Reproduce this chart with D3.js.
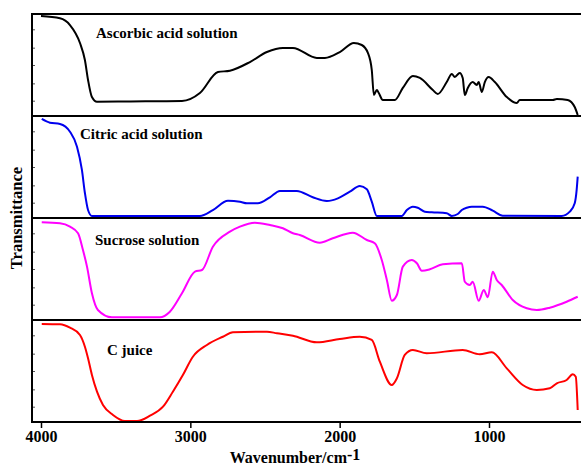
<!DOCTYPE html>
<html>
<head>
<meta charset="utf-8">
<script src="https://cdn.jsdelivr.net/npm/d3@7"></script>
<style>
  body { margin: 0; background: #fff; }
  svg { display: block; }
  .lbl { font-family: "Liberation Serif", "Times New Roman", serif; font-weight: bold; }
</style>
</head>
<body>
<div id="chart"></div>
<script>
// spectra: [wavenumber cm-1, relative transmittance %]
const ascorbic = [
  [4000, 98], [3873, 95.8], [3806, 89.2], [3739, 71.6], [3706, 54.9], [3685, 35.3], [3659, 18.6],
  [3625, 14], [3400, 14.3], [3200, 14.5], [3056, 14.7], [2936, 22.5], [2815, 43.1], [2735, 44.4],
  [2601, 52.9], [2487, 62.7], [2380, 66.7], [2313, 66.7], [2153, 56.9], [2099, 56.9], [1999, 62.7],
  [1905, 71.6], [1852, 69.6], [1811, 61.8], [1785, 45.1], [1771, 20.6], [1751, 25.5], [1738, 22.5],
  [1711, 15.7], [1631, 15.7], [1577, 27.5], [1510, 39.2], [1463, 37.3], [1376, 25.5], [1343, 21.6],
  [1283, 33.3], [1249, 41.2], [1229, 38.2], [1196, 42.2], [1176, 37.3], [1162, 20.6], [1142, 27.5],
  [1109, 33.3], [1082, 30.4], [1069, 33.3], [1048, 23.5], [1028, 33.3], [1002, 38.2], [961, 33.3],
  [881, 18.6], [814, 12.7], [794, 15.7], [573, 15.7], [546, 16.7], [473, 15.7], [426, 8.8], [406, 1]
]
const citric = [
  [3995, 97.1], [3940, 93.4], [3873, 92.2], [3806, 84.6], [3759, 69.9], [3726, 47.1], [3706, 24.5],
  [3685, 7.8], [3659, 2], [2936, 2], [2849, 7.8], [2748, 17], [2668, 16], [2621, 14.4], [2548, 14.4],
  [2467, 20.3], [2400, 26.5], [2287, 26.5], [2180, 20.3], [2086, 16.7], [2012, 19.3], [1932, 25.8],
  [1865, 31.4], [1818, 28.1], [1785, 16], [1751, 2], [1584, 2], [1550, 7.8], [1510, 11.1],
  [1477, 10.1], [1430, 6.2], [1383, 5.6], [1283, 4.6], [1249, 2], [1209, 3.9], [1182, 7.8],
  [1149, 10.1], [1115, 11.1], [1042, 11.1], [975, 7.2], [908, 2.3], [513, 2], [459, 6.2],
  [426, 14.4], [413, 27.5], [406, 40.5]
]
const sucrose = [
  [3995, 95.8], [3873, 94.8], [3806, 91.5], [3752, 85], [3719, 68.6], [3692, 52.3], [3659, 26.2],
  [3619, 9.8], [3525, 2.6], [3204, 2.6], [3137, 8.1], [3056, 26.2], [2969, 47.4], [2922, 49],
  [2849, 71.9], [2735, 86.6], [2668, 91.5], [2568, 95.4], [2467, 93.1], [2380, 89.9], [2313, 85],
  [2267, 83.3], [2133, 75.8], [2046, 80.1], [1912, 85.6], [1818, 78.4], [1765, 75.2], [1718, 58.8],
  [1684, 39.2], [1651, 18.9], [1617, 24.5], [1577, 52.3], [1517, 58.8], [1483, 55.6], [1450, 48.3],
  [1396, 49.7], [1309, 54.6], [1182, 55.6], [1162, 37.5], [1129, 34.3], [1109, 37.5], [1069, 18.9],
  [1035, 29.4], [1008, 22.3], [975, 47.4], [948, 39.2], [915, 34.3], [841, 19.6], [747, 11.5],
  [680, 9.8], [593, 12.1], [480, 17.9], [406, 22.8]
]
const cjuice = [
  [3995, 96.1], [3873, 95.8], [3806, 92.5], [3739, 85.3], [3706, 73.8], [3685, 62.5], [3659, 46.1],
  [3625, 29.7], [3585, 16.7], [3518, 6.9], [3438, 1], [3357, 1], [3270, 6.2], [3183, 15],
  [3117, 29.7], [3050, 46.1], [2983, 64], [2889, 75.5], [2782, 83.6], [2715, 87.9], [2487, 88.5],
  [2420, 87], [2313, 84.6], [2153, 78.1], [1999, 81.4], [1865, 83.6], [1785, 80.4], [1731, 59.1],
  [1651, 36.3], [1617, 42.8], [1564, 65.7], [1510, 70.6], [1417, 67.4], [1176, 70.6], [1062, 66.4],
  [981, 68.3], [881, 52.6], [774, 36.3], [680, 31.4], [593, 33], [546, 37.9], [480, 41.2],
  [439, 46.8], [419, 44.4], [406, 11.8]
]

const series = [ascorbic, citric, sucrose, cjuice]
const series_names = ["Ascorbic acid solution", "Citric acid solution", "Sucrose solution", "C juice"]
const series_colors = ["#000000", "#0000ee", "#ff00ff", "#ff0000"]
const x_ticks = [4000, 3000, 2000, 1000]
const y_ticks = [15, 32, 50, 67, 85]

const W = 581, H = 466
const frame = {left: 32, top: 14, panel_h: 102}
const label_pos = [[96, 38], [80, 139], [95, 245], [107, 355]]

const svg = d3.select("#chart").append("svg")
  .attr("width", W)
  .attr("height", H)

const x = d3.scaleLinear()
  .domain([4000, 1000])
  .range([41, 489])

const bottom = frame.top + 4 * frame.panel_h

svg.append("clipPath").attr("id", "clip")
  .append("rect")
  .attr("x", frame.left).attr("y", frame.top)
  .attr("width", W - frame.left).attr("height", bottom - frame.top)

for (let i = 0; i < series.length; i++) {
  const top = frame.top + i * frame.panel_h
  const y = d3.scaleLinear()
    .domain([0, 100])
    .range([top + frame.panel_h, top])

  // little inward ticks on the left
  const ax = svg.append("g")
    .attr("transform", "translate(" + frame.left + ",0)")
    .call(d3.axisRight(y).tickValues(y_ticks).tickSize(3).tickFormat(""))
  ax.select(".domain").remove()
  ax.selectAll("line").attr("stroke", "#555")

  svg.append("path")
    .datum(series[i])
    .attr("clip-path", "url(#clip)")
    .attr("fill", "none")
    .attr("stroke", series_colors[i])
    .attr("stroke-width", 2)
    .attr("stroke-linejoin", "round")
    .attr("d", d3.line()
      .x(d => x(d[0]))
      .y(d => y(d[1]))
      .curve(d3.curveMonotoneX))

  svg.append("text")
    .attr("class", "lbl")
    .attr("x", label_pos[i][0])
    .attr("y", label_pos[i][1])
    .attr("font-size", 15)
    .text(series_names[i])
}

// frame: left edge + panel separators running off the right edge
svg.append("line")
  .attr("x1", frame.left).attr("x2", frame.left)
  .attr("y1", frame.top - 1).attr("y2", bottom + 1)
  .attr("stroke", "#000").attr("stroke-width", 2)
for (let i = 0; i <= 4; i++) {
  const yy = frame.top + i * frame.panel_h
  svg.append("line")
    .attr("x1", frame.left).attr("x2", W)
    .attr("y1", yy).attr("y2", yy)
    .attr("stroke", "#000").attr("stroke-width", 2)
}

const xa = svg.append("g")
  .attr("transform", "translate(0," + bottom + ")")
  .call(d3.axisBottom(x).tickValues(x_ticks).tickSize(6).tickPadding(3).tickFormat(d3.format("d")))
xa.select(".domain").remove()
xa.selectAll("line").attr("stroke", "#000").attr("stroke-width", 1.5)
xa.selectAll("text")
  .attr("class", "lbl")
  .attr("font-size", 16)
  .attr("fill", "#000")

const xl = svg.append("text")
  .attr("class", "lbl")
  .attr("x", 295)
  .attr("y", 463)
  .attr("font-size", 16)
  .attr("text-anchor", "middle")
xl.append("tspan").text("Wavenumber/cm")
xl.append("tspan").attr("dy", -3).text("-1")

svg.append("text")
  .attr("class", "lbl")
  .attr("transform", "translate(22," + ((frame.top + bottom) / 2) + ") rotate(-90)")
  .attr("font-size", 16.5)
  .attr("text-anchor", "middle")
  .text("Transmittance")
</script>
</body>
</html>
